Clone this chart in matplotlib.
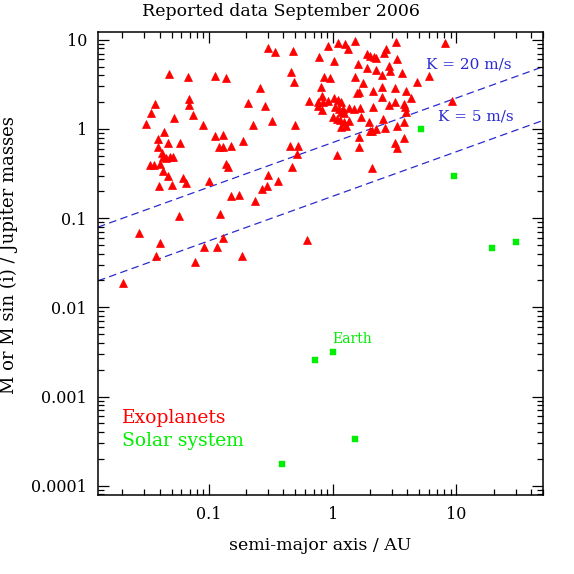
import matplotlib
matplotlib.use("Agg")
import matplotlib.pyplot as plt
import numpy as np
from matplotlib.ticker import FixedLocator, FixedFormatter, LogLocator, NullFormatter

plt.rcParams['font.family'] = ['DejaVu Serif']

# Exoplanets: semi-major axis (AU) and M sin i (Jupiter masses)
exo_a = [0.299, 0.342, 0.479, 0.923, 0.771, 0.0477, 0.0683, 0.112, 0.138, 0.464,
         0.490, 0.846, 0.810, 0.259, 0.826, 0.645, 0.757, 0.830, 0.918, 0.762,
         0.815, 0.0367, 0.0341, 0.0309, 0.0523, 0.0692, 0.0696, 0.0740, 0.0903, 0.206,
         0.286, 0.326, 0.226, 0.500, 0.0437, 0.0389, 0.0468, 0.0389, 0.0585, 0.112,
         0.129, 0.120, 0.129, 0.152, 0.190, 0.453, 0.525, 0.519, 0.0416, 0.0429,
         0.0454, 0.0482, 0.0517, 0.0335, 0.0361, 0.0400, 0.0427, 0.0465, 0.138, 0.143,
         0.473, 0.0619, 0.0654, 0.0393, 0.0504, 0.101, 0.299, 0.359, 0.295, 0.267,
         0.151, 0.174, 0.234, 0.0574, 0.122, 0.0273, 0.0400, 0.129, 0.0915, 0.117,
         0.0372, 0.0778, 0.184, 0.625, 0.0204,
         1.106, 1.25, 1.339, 1.505, 3.228, 2.70, 2.582, 1.906, 1.99, 2.144,
         2.254, 8.135, 1.019, 3.313, 1.592, 1.896, 2.225, 2.834, 2.925, 3.609,
         2.52, 0.953, 1.505, 1.747, 4.77, 5.965,
         2.52, 3.168, 1.643, 1.583, 2.104, 2.52, 3.916, 4.322, 1.032, 1.098,
         1.169, 3.21, 3.774, 2.834, 2.132, 1.046, 1.118, 1.205, 1.364, 1.489,
         1.665, 3.816, 3.938, 9.15, 1.169, 1.243,
         1.013, 1.077, 1.154, 1.236, 1.364, 1.696, 2.554, 3.746, 1.979, 3.332,
         2.665, 2.242, 2.081, 1.99, 1.169, 1.274, 1.622, 3.746, 3.168, 3.289,
         1.622, 1.085, 2.081]
exo_m = [8.07, 7.33, 7.47, 8.56, 6.35, 4.16, 3.85, 3.95, 3.72, 4.31,
         3.36, 3.85, 2.93, 2.85, 2.34, 2.05, 2.02, 2.02, 2.07, 1.81,
         1.63, 1.89, 1.51, 1.14, 1.34, 2.15, 1.85, 1.42, 1.10, 1.95,
         1.81, 1.24, 1.10, 1.10, 0.923, 0.764, 0.690, 0.627, 0.695, 0.839,
         0.854, 0.622, 0.622, 0.643, 0.732, 0.648, 0.643, 0.523, 0.533, 0.480,
         0.472, 0.488, 0.480, 0.397, 0.391, 0.404, 0.340, 0.299, 0.404, 0.371,
         0.374, 0.282, 0.249, 0.231, 0.237, 0.263, 0.302, 0.263, 0.231, 0.212,
         0.176, 0.180, 0.157, 0.106, 0.110, 0.0681, 0.0526, 0.0594, 0.0474, 0.0471,
         0.0379, 0.0320, 0.0373, 0.0573, 0.0186,
         9.25, 8.88, 7.86, 9.74, 9.35, 7.8, 7.04, 6.91, 6.57, 6.45,
         6.19, 9.18, 5.81, 6.03, 5.30, 4.78, 4.54, 5.07, 4.46, 4.20,
         4.02, 3.72, 3.85, 3.30, 3.33, 3.95,
         2.95, 2.85, 2.61, 2.51, 2.66, 2.30, 2.64, 2.24, 2.20, 2.11,
         2.02, 2.02, 1.90, 1.84, 1.76, 1.75, 1.66, 1.66, 1.73, 1.68,
         1.70, 1.75, 1.56, 2.05, 1.56, 1.50,
         1.35, 1.30, 1.27, 1.20, 1.23, 1.35, 1.28, 1.20, 1.20, 1.08,
         1.03, 0.990, 0.954, 0.940, 1.04, 1.07, 0.811, 0.797, 0.690, 0.616,
         0.632, 0.506, 0.365]

# Solar system planets
sol_names = ["Mercury", "Venus", "Earth", "Mars", "Jupiter", "Saturn", "Uranus", "Neptune"]
sol_a = [0.387, 0.723, 1.0, 1.524, 5.203, 9.537, 19.19, 30.07]
sol_m = [0.000174, 0.00256, 0.00315, 0.000338, 1.0, 0.299, 0.0457, 0.054]

# Radial-velocity semi-amplitude limits (m/s)
k_values = [20, 5]
k_labels = ["K = 20 m/s", "K = 5 m/s"]
k_label_pos = [(5.71, 5.34), (7.14, 1.36)]

x_ticks = [0.1, 1, 10]
x_ticklabels = ["0.1", "1", "10"]
y_ticks = [0.0001, 0.001, 0.01, 0.1, 1, 10]
y_ticklabels = ["0.0001", "0.001", "0.01", "0.1", "1", "10"]

RED = '#ff0000'
GREEN = '#00ee00'
BLUE = '#2a2ad0'

fig = plt.figure(figsize=(5.74, 5.74), dpi=100)
ax = fig.add_axes([98/574, 79/574, 445/574, 463/574])
ax.set_xscale('log')
ax.set_yscale('log')
ax.set_xlim(0.0127, 50)
ax.set_ylim(7.87e-5, 12.2)

# RV limit lines: M sin i = K/28.43 * sqrt(a)
a_line = np.logspace(np.log10(0.0127), np.log10(50), 200)
for k in k_values:
    ax.plot(a_line, k / 28.43 * np.sqrt(a_line), color=BLUE, lw=0.9,
            linestyle=(0, (6, 3.5)), zorder=1)
for lab, (xa, ym) in zip(k_labels, k_label_pos):
    ax.text(xa, ym, lab, color=BLUE, fontsize=11, ha='left', va='center')

ax.plot(exo_a, exo_m, linestyle='none', marker='^', markersize=6.2,
        color=RED, markeredgecolor=RED, markeredgewidth=0.5, zorder=3)
ax.plot(sol_a, sol_m, linestyle='none', marker='s', markersize=4.6,
        color=GREEN, markeredgecolor=GREEN, markeredgewidth=0.3, zorder=3)

ei = sol_names.index("Earth")
ax.text(sol_a[ei] * 0.99, 0.0044, "Earth", color=GREEN, fontsize=10,
        ha='left', va='center')

ax.text(0.054, 0.166, "Exoplanets", color=RED, fontsize=13.5,
        transform=ax.transAxes, ha='left', va='center')
ax.text(0.054, 0.117, "Solar system", color=GREEN, fontsize=13.5,
        transform=ax.transAxes, ha='left', va='center')

ax.xaxis.set_major_locator(FixedLocator(x_ticks))
ax.xaxis.set_major_formatter(FixedFormatter(x_ticklabels))
ax.yaxis.set_major_locator(FixedLocator(y_ticks))
ax.yaxis.set_major_formatter(FixedFormatter(y_ticklabels))
ax.xaxis.set_minor_locator(LogLocator(base=10, subs=np.arange(2, 10), numticks=20))
ax.yaxis.set_minor_locator(LogLocator(base=10, subs=np.arange(2, 10), numticks=20))
ax.xaxis.set_minor_formatter(NullFormatter())
ax.yaxis.set_minor_formatter(NullFormatter())
ax.tick_params(which='both', direction='in', top=True, right=True, width=0.9)
ax.tick_params(which='major', length=8, labelsize=11.5, pad=8)
ax.tick_params(which='minor', length=4)
for s in ax.spines.values():
    s.set_linewidth(1.1)

ax.set_xlabel("semi-major axis / AU", fontsize=12.5)
ax.xaxis.set_label_coords(0.5, -0.0907)
ax.set_ylabel("M or M sin (i) / Jupiter masses", fontsize=13)
ax.yaxis.set_label_coords(-0.180, 0.518)
fig.text(281/574, 1 - 12/574, "Reported data September 2006", fontsize=12.5,
         ha='center', va='center')

fig.savefig("out.png", dpi=100)
